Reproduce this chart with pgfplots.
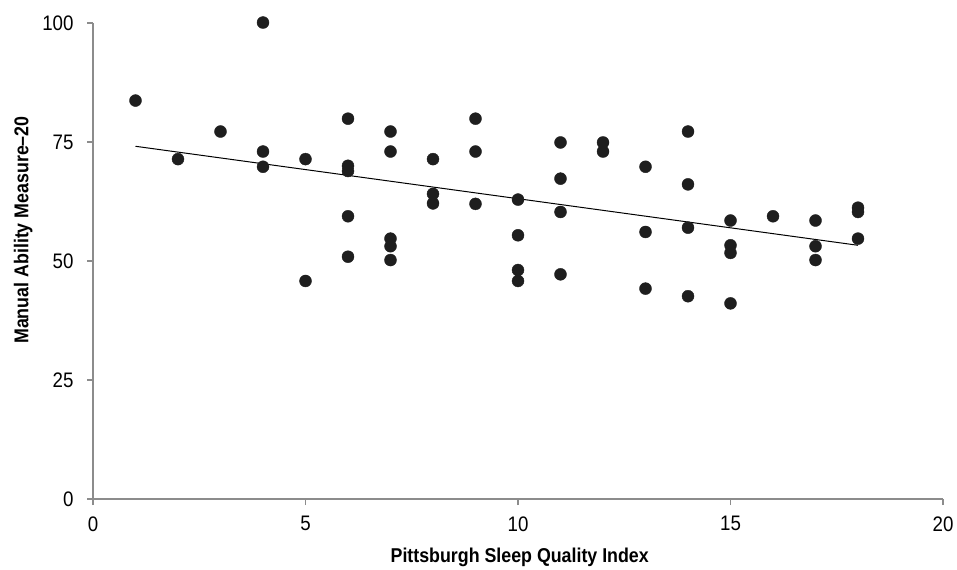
\documentclass[border=0pt]{standalone}
\usepackage{fontspec}
\setmainfont{Liberation Sans}[FakeStretch=0.89]
\usepackage{pgfplots}
\pgfplotsset{compat=1.18}
\definecolor{axgray}{RGB}{140,140,140}
\definecolor{dot}{RGB}{30,30,30}
\begin{document}
\begin{tikzpicture}
\begin{axis}[
  scale only axis, width=850pt, height=476pt,
  xmin=0, xmax=20, ymin=0, ymax=100,
  axis x line*=bottom, axis y line*=left,
  xtick={0,5,10,15,20}, ytick={0,25,50,75,100},
  tick align=outside, major tick length=6pt,
  axis line style={axgray, line width=1.5pt},
  tick style={axgray, line width=1.5pt},
  tick label style={font=\fontsize{21}{21}\selectfont, text=black},
  xticklabel style={yshift=-8pt},
  yticklabel style={xshift=-10pt},
  /pgf/number format/assume math mode=true,
  xlabel={\bfseries Pittsburgh Sleep Quality Index},
  ylabel={\bfseries Manual Ability Measure–20},
  label style={font=\fontsize{20}{20}\selectfont},
  xlabel style={at={(axis description cs:0.502,-0.122)}, anchor=center},
  ylabel style={at={(axis description cs:-0.082,0.565)}, anchor=center},
  clip=false,
]
\addplot[only marks, mark=*, mark size=6pt, draw=dot, fill=dot] coordinates {
(1,83.7) (2,71.4) (3,77.2)
(4,100.1) (4,73.0) (4,69.8)
(5,71.4) (5,45.8)
(6,79.9) (6,70.0) (6,68.9) (6,59.4) (6,50.9)
(7,77.2) (7,73.0) (7,54.7) (7,53.1) (7,50.2)
(8,71.4) (8,64.1) (8,62.1)
(9,79.9) (9,73.0) (9,62.0)
(10,62.9) (10,55.4) (10,48.1) (10,45.8)
(11,74.9) (11,67.3) (11,60.3) (11,47.2)
(12,74.9) (12,73.0)
(13,69.8) (13,56.1) (13,44.2)
(14,77.2) (14,66.1) (14,57.0) (14,42.6)
(15,58.5) (15,53.3) (15,51.7) (15,41.1)
(16,59.4)
(17,58.5) (17,53.1) (17,50.2)
(18,61.2) (18,60.3) (18,54.7)
};
\addplot[black, line width=1pt, no marks] coordinates {(1,74.1) (18,53.3)};
\end{axis}
\path (current axis.south west) ++(-93pt,-69pt) rectangle ++(957pt,568pt);
\end{tikzpicture}
\end{document}
